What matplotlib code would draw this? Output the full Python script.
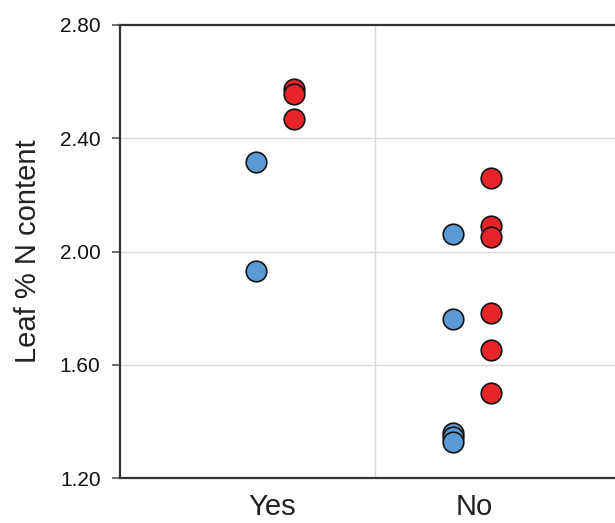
import matplotlib
matplotlib.use("Agg")
import matplotlib.pyplot as plt

plt.rcParams["font.family"] = ["Liberation Sans", "DejaVu Sans"]

# ── Data ──────────────────────────────────────────────────────────────────────
categories = ["Yes", "No"]
blue_yes = [2.317, 1.932]
red_yes  = [2.573, 2.556, 2.468]
blue_no  = [2.061, 1.762, 1.358, 1.346, 1.328]
red_no   = [2.261, 2.090, 2.050, 1.782, 1.652, 1.501]
y_ticks  = [1.20, 1.60, 2.00, 2.40, 2.80]

BLUE = "#5b9bd5"
RED  = "#e8242b"
OFF  = 0.097

fig = plt.figure(figsize=(6.15, 5.23), dpi=100)
ax = fig.add_axes([120 / 615, 1 - 478 / 523, 1 - 120 / 615, (478 - 25) / 523])

for i, (b, r) in enumerate([(blue_yes, red_yes), (blue_no, red_no)]):
    x = i + 1
    ax.plot([x - OFF] * len(b), b, "o", ms=14.8, mfc=BLUE, mec="#111111",
            mew=1.2, zorder=3, clip_on=False)
    ax.plot([x + OFF] * len(r), r, "o", ms=14.8, mfc=RED, mec="#111111",
            mew=1.2, zorder=3, clip_on=False)

ax.set_xlim(0.213, 2.726)
ax.set_ylim(1.20, 2.80)
ax.set_yticks(y_ticks)
ax.set_yticklabels([f"{v:.2f}" for v in y_ticks])
ax.set_xticks([0.985, 2.01])
ax.set_xticklabels(categories)

for v in y_ticks[1:-1]:
    ax.axhline(v, color="#d9d9d9", lw=1.0, zorder=1)
ax.axvline(1.51, color="#d9d9d9", lw=1.0, zorder=1)

for side in ["left", "top", "bottom"]:
    ax.spines[side].set_color("#333333")
    ax.spines[side].set_linewidth(1.6)
ax.spines["right"].set_visible(False)

ax.tick_params(axis="y", direction="out", length=6, width=1.2, color="#555555",
               labelsize=15, pad=8, labelcolor="#111111")
ax.tick_params(axis="x", length=0, labelsize=21, pad=11, labelcolor="#222222")
ax.set_ylabel("Leaf % N content", fontsize=21, color="#222222", labelpad=13)

fig.savefig("out.png", dpi=100)
